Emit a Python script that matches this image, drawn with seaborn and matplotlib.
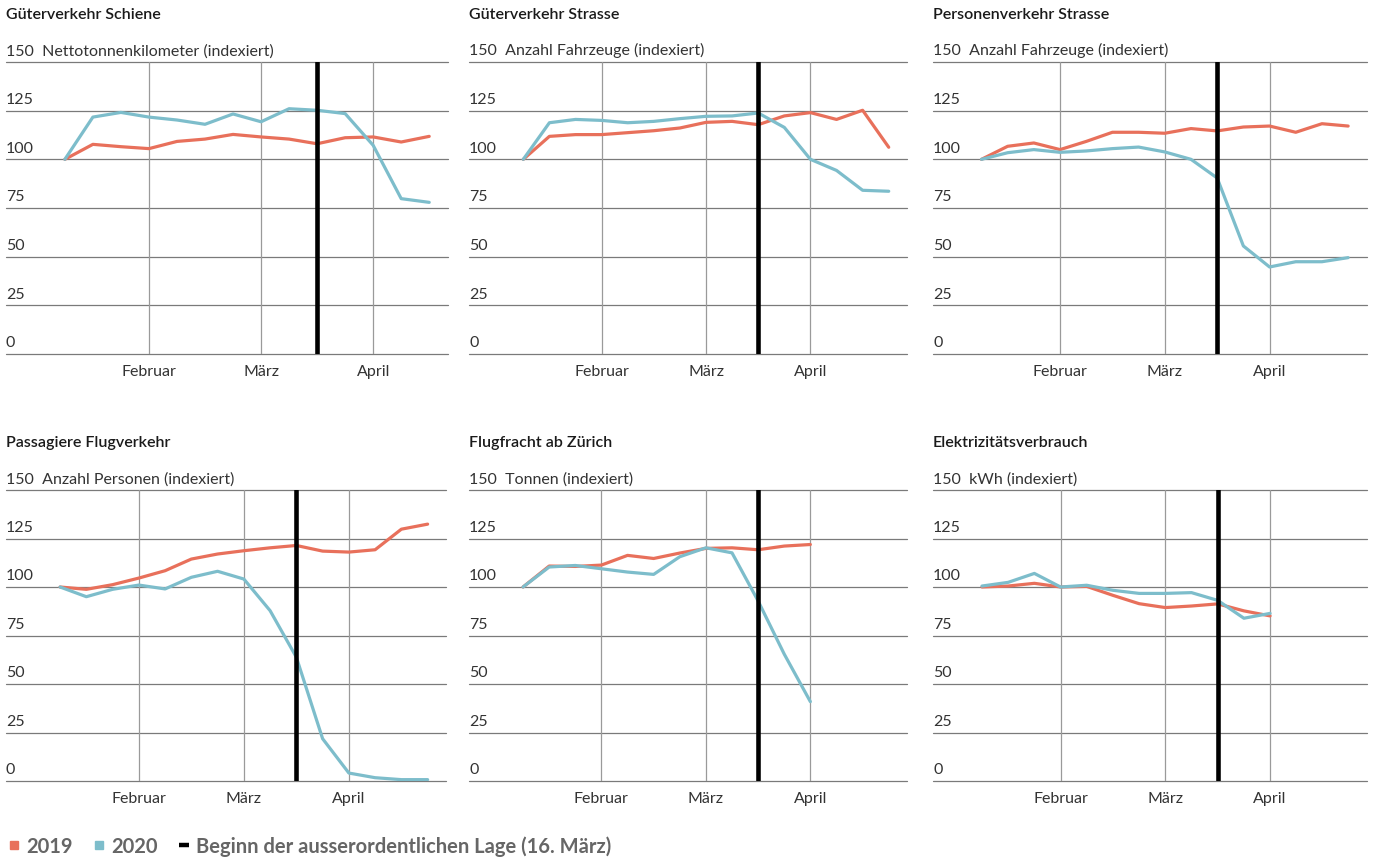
import matplotlib
matplotlib.use("Agg")
import matplotlib.pyplot as plt
from matplotlib.lines import Line2D
import pandas as pd
import seaborn as sns

# weekly index values (week 0 = 100)
SCHIENE_2019 = [100, 107.7, 106.5, 105.5, 109.2, 110.4, 112.8, 111.5, 110.4, 108.0, 111.1, 111.5, 108.9, 111.8]
SCHIENE_2020 = [100, 121.7, 124.1, 121.7, 120.2, 118.0, 123.3, 119.3, 126.0, 125.2, 123.5, 107.2, 79.8, 77.9]

STRASSE_G_2019 = [100, 111.8, 112.7, 112.7, 113.7, 114.7, 116.1, 119.0, 119.5, 117.8, 122.3, 124.0, 120.5, 125.2, 106.2]
STRASSE_G_2020 = [100, 118.8, 120.5, 120.0, 118.8, 119.5, 120.9, 122.1, 122.3, 123.8, 116.4, 100.0, 94.3, 84.1, 83.6]

STRASSE_P_2019 = [100, 106.7, 108.4, 105.0, 109.2, 113.9, 113.9, 113.4, 115.8, 114.6, 116.6, 117.1, 113.9, 118.3, 117.1]
STRASSE_P_2020 = [100, 103.4, 105.0, 103.6, 104.3, 105.5, 106.3, 103.8, 100.0, 90.4, 55.5, 44.7, 47.4, 47.4, 49.5]

FLUG_P_2019 = [100, 98.8, 101.2, 104.6, 108.4, 114.4, 117.0, 118.7, 120.2, 121.4, 118.5, 118.0, 119.2, 129.8, 132.4]
FLUG_P_2020 = [100, 95.0, 98.8, 101.0, 99.0, 105.0, 108.1, 104.1, 87.8, 63.8, 21.8, 4.1, 1.7, 0.7, 0.7]

FRACHT_2019 = [100, 110.8, 110.6, 111.3, 116.3, 114.7, 117.5, 119.9, 120.2, 119.2, 121.1, 121.9]
FRACHT_2020 = [100, 110.3, 111.1, 109.4, 107.7, 106.5, 115.6, 120.2, 117.6, 92.8, 65.4, 40.9]

STROM_2019 = [100, 100.5, 101.9, 100.0, 100.3, 95.7, 91.4, 89.4, 90.2, 91.3, 87.7, 85.1]
STROM_2020 = [100.5, 102.4, 107.0, 100.0, 100.9, 98.3, 96.7, 96.7, 97.1, 93.1, 83.9, 86.4]

TITLES = ["Güterverkehr Schiene", "Güterverkehr Strasse", "Personenverkehr Strasse",
          "Passagiere Flugverkehr", "Flugfracht ab Zürich", "Elektrizitätsverbrauch"]
UNITS = ["Nettotonnenkilometer (indexiert)", "Anzahl Fahrzeuge (indexiert)",
         "Anzahl Fahrzeuge (indexiert)", "Anzahl Personen (indexiert)",
         "Tonnen (indexiert)", "kWh (indexiert)"]
SERIES = [(SCHIENE_2019, SCHIENE_2020), (STRASSE_G_2019, STRASSE_G_2020),
          (STRASSE_P_2019, STRASSE_P_2020), (FLUG_P_2019, FLUG_P_2020),
          (FRACHT_2019, FRACHT_2020), (STROM_2019, STROM_2020)]

MONTH_WEEKS = [3, 7, 11]
MONTH_LABELS = ["Februar", "März", "April"]
LOCKDOWN_WEEK = 9
Y_LEVELS = [0, 25, 50, 75, 100, 125, 150]
YEARS = ["2019", "2020"]

RED = "#E8705B"
BLUE = "#7DBDCB"

sns.set_theme(style="white")
plt.rcParams["font.family"] = ["Lato", "DejaVu Sans"]

W, H = 1373, 862
fig = plt.figure(figsize=(W / 100, H / 100), dpi=100)

# pixel boxes (left, right, top, bottom) of each plot area
boxes = [(6, 448, 63, 355), (469, 907, 63, 355), (933, 1367, 63, 355),
         (6, 446, 491, 782), (469, 907, 491, 782), (933, 1367, 491, 782)]
xlims = [(-2.1, 13.67), (-2.08, 14.7), (-1.85, 14.72),
         (-2.06, 14.7), (-2.07, 14.7), (-1.87, 14.7)]

for i, (l, r, t, b) in enumerate(boxes):
    ax = fig.add_axes([l / W, 1 - b / H, (r - l) / W, (b - t) / H])
    s19, s20 = SERIES[i]
    df = pd.concat([
        pd.DataFrame({"woche": range(len(s19)), "wert": s19, "jahr": YEARS[0]}),
        pd.DataFrame({"woche": range(len(s20)), "wert": s20, "jahr": YEARS[1]}),
    ])

    for v in Y_LEVELS:
        ax.axhline(v, color="#7a7a7a", lw=0.9, clip_on=False, zorder=1)
    for m in MONTH_WEEKS:
        ax.axvline(m, color="#9a9a9a", lw=0.9, zorder=1)

    sns.lineplot(data=df, x="woche", y="wert", hue="jahr",
                 palette={YEARS[0]: RED, YEARS[1]: BLUE},
                 linewidth=2.3, legend=False, ax=ax, zorder=3)
    ax.axvline(LOCKDOWN_WEEK, color="black", lw=3.3, zorder=4)

    ax.set_xlim(*xlims[i])
    ax.set_ylim(0, 150)
    ax.set_xticks(MONTH_WEEKS)
    ax.set_xticklabels(MONTH_LABELS, fontsize=11.5, color="#333333")
    ax.tick_params(axis="x", length=0, pad=7)
    ax.set_yticks([])
    ax.set_xlabel("")
    ax.set_ylabel("")
    for s in ax.spines.values():
        s.set_visible(False)

    for v in Y_LEVELS:
        lab = str(v)
        if v == 150:
            lab = f"150  {UNITS[i]}"
        ax.text(0, v + 2.4, lab, transform=ax.get_yaxis_transform(),
                ha="left", va="bottom", fontsize=11.5, color="#333333")

    fig.text(l / W, 1 - (t - 48) / H, TITLES[i], ha="left", va="center",
             fontsize=11.5, fontweight="semibold", color="#1a1a1a")

handles = [
    Line2D([], [], marker="s", ls="none", color=RED, ms=6.3),
    Line2D([], [], marker="s", ls="none", color=BLUE, ms=6.3),
    Line2D([], [], marker="_", ls="none", color="black", ms=6.5, mew=3.2),
]
labels = ["2019", "2020", "Beginn der ausserordentlichen Lage (16. März)"]
fig.legend(handles, labels, loc="center left", bbox_to_anchor=(-0.006, 1 - 847 / H),
           ncol=3, frameon=False, handlelength=0.45, handletextpad=0.35,
           columnspacing=1.1, labelcolor="#666666",
           prop={"size": 14.5, "weight": "bold"})

fig.savefig("out.png", dpi=100)
